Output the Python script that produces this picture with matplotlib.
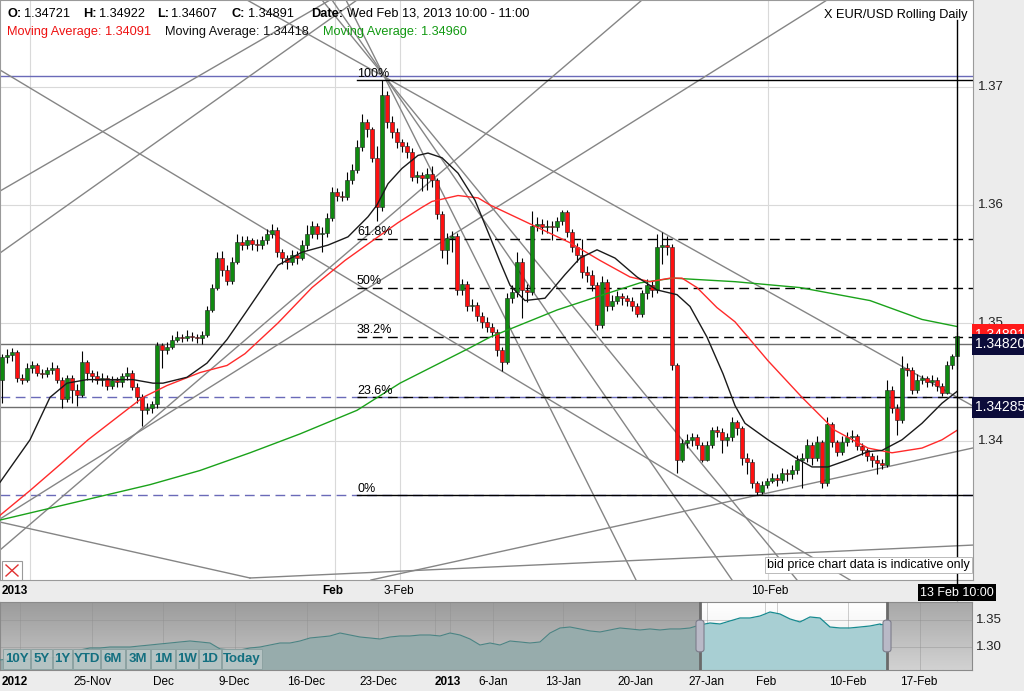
import matplotlib
matplotlib.use("Agg")
import matplotlib.pyplot as plt
import numpy as np
from matplotlib.colors import LinearSegmentedColormap
from matplotlib.patches import Rectangle, FancyBboxPatch
from matplotlib.lines import Line2D

plt.rcParams['font.family'] = ['Liberation Sans', 'DejaVu Sans']

W, H = 1024, 691

# ---- hourly EUR/USD candles (open = previous close) ----
first_open = 1.3452
close = [1.3471, 1.3473, 1.3475, 1.3453, 1.3452, 1.3462, 1.3464, 1.3458, 1.3457, 1.3460,
         1.3462, 1.3452, 1.3436, 1.3453, 1.3443, 1.3439, 1.3467, 1.3458, 1.3455, 1.3452,
         1.3453, 1.3447, 1.3452, 1.3450, 1.3455, 1.3458, 1.3446, 1.3437, 1.3426, 1.3428,
         1.3431, 1.3481, 1.3477, 1.3480, 1.3486, 1.3488, 1.3487, 1.3489, 1.3488, 1.3487,
         1.3490, 1.3511, 1.3530, 1.3555, 1.3545, 1.3536, 1.3552, 1.3569, 1.3566, 1.3570,
         1.3567, 1.3566, 1.3570, 1.3575, 1.3579, 1.3560, 1.3555, 1.3552, 1.3558, 1.3555,
         1.3566, 1.3575, 1.3582, 1.3575, 1.3576, 1.3589, 1.3611, 1.3608, 1.3607, 1.3621,
         1.3630, 1.3649, 1.3670, 1.3664, 1.3640, 1.3598, 1.3693, 1.3670, 1.3662, 1.3653,
         1.3650, 1.3645, 1.3624, 1.3625, 1.3623, 1.3626, 1.3621, 1.3592, 1.3562, 1.3572,
         1.3574, 1.3528, 1.3533, 1.3514, 1.3515, 1.3506, 1.3501, 1.3497, 1.3492, 1.3477,
         1.3467, 1.3521, 1.3526, 1.3552, 1.3528, 1.3526, 1.3582, 1.3584, 1.3581, 1.3582,
         1.3581, 1.3586, 1.3594, 1.3577, 1.3564, 1.3558, 1.3543, 1.3541, 1.3532, 1.3498,
         1.3535, 1.3514, 1.3519, 1.3523, 1.3521, 1.3519, 1.3514, 1.3508, 1.3525, 1.3532,
         1.3528, 1.3564, 1.3566, 1.3564, 1.3464, 1.3384, 1.3398, 1.3401, 1.3403, 1.3397,
         1.3384, 1.3397, 1.3409, 1.3408, 1.3401, 1.3403, 1.3416, 1.3411, 1.3386, 1.3382,
         1.3364, 1.3357, 1.3363, 1.3366, 1.3369, 1.3367, 1.3373, 1.3372, 1.3375, 1.3384,
         1.3386, 1.3397, 1.3386, 1.3399, 1.3364, 1.3414, 1.3399, 1.3391, 1.3399, 1.3403,
         1.3404, 1.3396, 1.3392, 1.3387, 1.3384, 1.3381, 1.3380, 1.3443, 1.3428, 1.3418,
         1.3462, 1.3460, 1.3443, 1.3452, 1.3453, 1.3450, 1.3452, 1.3447, 1.3441, 1.3464,
         1.3472, 1.3489]
high = [1.3474, 1.3478, 1.3479, 1.3477, 1.3457, 1.3466, 1.3468, 1.3466, 1.3461, 1.3463,
        1.3467, 1.3464, 1.3454, 1.3456, 1.3456, 1.3448, 1.3476, 1.3469, 1.3460, 1.3459,
        1.3458, 1.3456, 1.3455, 1.3454, 1.3458, 1.3463, 1.3460, 1.3449, 1.3440, 1.3432,
        1.3434, 1.3484, 1.3483, 1.3484, 1.3490, 1.3493, 1.3491, 1.3494, 1.3492, 1.3491,
        1.3493, 1.3514, 1.3533, 1.3560, 1.3561, 1.3549, 1.3556, 1.3575, 1.3574, 1.3574,
        1.3572, 1.3571, 1.3574, 1.3580, 1.3584, 1.3581, 1.3563, 1.3558, 1.3562, 1.3561,
        1.3570, 1.3583, 1.3586, 1.3585, 1.3581, 1.3593, 1.3615, 1.3614, 1.3612, 1.3628,
        1.3635, 1.3655, 1.3677, 1.3673, 1.3666, 1.3650, 1.3706, 1.3697, 1.3675, 1.3665,
        1.3656, 1.3653, 1.3648, 1.3629, 1.3628, 1.3631, 1.3633, 1.3623, 1.3595, 1.3576,
        1.3578, 1.3576, 1.3537, 1.3536, 1.3520, 1.3518, 1.3509, 1.3505, 1.3500, 1.3495,
        1.3480, 1.3525, 1.3532, 1.3560, 1.3555, 1.3533, 1.3595, 1.3590, 1.3588, 1.3587,
        1.3586, 1.3590, 1.3596, 1.3596, 1.3580, 1.3568, 1.3571, 1.3548, 1.3545, 1.3535,
        1.3540, 1.3537, 1.3524, 1.3527, 1.3525, 1.3524, 1.3522, 1.3517, 1.3528, 1.3537,
        1.3536, 1.3575, 1.3577, 1.3574, 1.3567, 1.3466, 1.3402, 1.3406, 1.3407, 1.3406,
        1.3399, 1.3400, 1.3412, 1.3413, 1.3411, 1.3407, 1.3420, 1.3418, 1.3413, 1.3390,
        1.3385, 1.3366, 1.3366, 1.3369, 1.3373, 1.3372, 1.3377, 1.3376, 1.3380, 1.3388,
        1.3390, 1.3402, 1.3399, 1.3404, 1.3401, 1.3420, 1.3416, 1.3401, 1.3404, 1.3408,
        1.3409, 1.3406, 1.3398, 1.3394, 1.3390, 1.3388, 1.3385, 1.3452, 1.3447, 1.3431,
        1.3472, 1.3466, 1.3463, 1.3457, 1.3456, 1.3455, 1.3456, 1.3454, 1.3449, 1.3468,
        1.3474, 1.3492]
low = [1.3432, 1.3466, 1.3468, 1.3450, 1.3448, 1.3450, 1.3458, 1.3455, 1.3453, 1.3454,
       1.3457, 1.3449, 1.3428, 1.3433, 1.3432, 1.3430, 1.3437, 1.3452, 1.3450, 1.3448,
       1.3447, 1.3443, 1.3444, 1.3446, 1.3446, 1.3452, 1.3443, 1.3432, 1.3413, 1.3423,
       1.3424, 1.3428, 1.3462, 1.3474, 1.3478, 1.3484, 1.3484, 1.3485, 1.3485, 1.3483,
       1.3482, 1.3488, 1.3509, 1.3528, 1.3540, 1.3532, 1.3533, 1.3550, 1.3562, 1.3563,
       1.3562, 1.3561, 1.3563, 1.3567, 1.3572, 1.3556, 1.3550, 1.3546, 1.3549, 1.3550,
       1.3553, 1.3563, 1.3572, 1.3571, 1.3560, 1.3573, 1.3586, 1.3603, 1.3603, 1.3604,
       1.3618, 1.3627, 1.3646, 1.3658, 1.3636, 1.3586, 1.3595, 1.3665, 1.3657, 1.3648,
       1.3645, 1.3640, 1.3620, 1.3619, 1.3612, 1.3613, 1.3615, 1.3588, 1.3555, 1.3550,
       1.3560, 1.3524, 1.3524, 1.3510, 1.3510, 1.3502, 1.3496, 1.3492, 1.3488, 1.3472,
       1.3459, 1.3465, 1.3517, 1.3522, 1.3504, 1.3518, 1.3524, 1.3578, 1.3575, 1.3576,
       1.3570, 1.3578, 1.3583, 1.3573, 1.3560, 1.3552, 1.3538, 1.3535, 1.3527, 1.3494,
       1.3496, 1.3510, 1.3511, 1.3516, 1.3515, 1.3514, 1.3510, 1.3505, 1.3505, 1.3520,
       1.3522, 1.3525, 1.3550, 1.3558, 1.3460, 1.3373, 1.3382, 1.3394, 1.3396, 1.3393,
       1.3382, 1.3383, 1.3394, 1.3403, 1.3390, 1.3396, 1.3400, 1.3405, 1.3380, 1.3372,
       1.3360, 1.3354, 1.3355, 1.3360, 1.3364, 1.3362, 1.3364, 1.3366, 1.3368, 1.3372,
       1.3360, 1.3382, 1.3380, 1.3383, 1.3360, 1.3362, 1.3395, 1.3387, 1.3388, 1.3396,
       1.3399, 1.3392, 1.3388, 1.3383, 1.3378, 1.3372, 1.3376, 1.3378, 1.3424, 1.3405,
       1.3415, 1.3455, 1.3440, 1.3441, 1.3448, 1.3446, 1.3447, 1.3442, 1.3438, 1.3440,
       1.3461, 1.3461]

# ---- moving averages (candle index, price) ----
ma_black_x = [-0.4, 5.6, 9.6, 13, 17, 26.2, 30.2, 32.2, 37, 41, 45, 48.6, 55.2, 60, 65.2,
              69.2, 73.2, 75, 77.2, 80, 83.2, 85.2, 88, 91.2, 94.6, 97.6, 99.6, 101.6,
              104.6, 108.6, 112.6, 115.6, 119, 122.6, 127, 131, 135, 137.6, 141, 144.2,
              146.6, 148.6, 153.2, 158.6, 162, 165.2, 169.2, 173.2, 176, 180, 184, 188, 191]
ma_black = [1.3365, 1.3401, 1.3437, 1.3449, 1.3452, 1.3452, 1.3449, 1.3449, 1.3454, 1.3466,
            1.3486, 1.3508, 1.3549, 1.3560, 1.3566, 1.3573, 1.3590, 1.3600, 1.3618, 1.3631,
            1.3642, 1.3644, 1.3640, 1.3627, 1.3604, 1.3573, 1.3552, 1.3532, 1.3519, 1.3521,
            1.3541, 1.3555, 1.3562, 1.3555, 1.3539, 1.3528, 1.3524, 1.3514, 1.3488, 1.3457,
            1.3430, 1.3415, 1.3401, 1.3386, 1.3378, 1.3378, 1.3384, 1.3391, 1.3392, 1.3401,
            1.3415, 1.3432, 1.3442]
ma_red_x = [-0.4, 5.6, 11.6, 17.2, 23, 28.2, 33, 39.6, 45, 48.6, 55.2, 62, 68.6, 75.2, 79.2,
            84, 86, 91.2, 95.2, 97.6, 105.6, 113.6, 119.6, 125.6, 129.6, 133.6, 136, 139,
            143, 146.6, 153.2, 160, 166.6, 173.2, 178, 184, 188, 191]
ma_red = [1.3337, 1.3358, 1.3380, 1.3401, 1.3420, 1.3437, 1.3447, 1.3458, 1.3464, 1.3474,
          1.3500, 1.3530, 1.3553, 1.3573, 1.3585, 1.3598, 1.3603, 1.3608, 1.3606, 1.3600,
          1.3584, 1.3568, 1.3553, 1.3539, 1.3535, 1.3538, 1.3538, 1.3530, 1.3513, 1.3501,
          1.3468, 1.3437, 1.3409, 1.3394, 1.3390, 1.3394, 1.3401, 1.3409]
ma_green_x = [-0.4, 9.6, 19.6, 29.6, 39.6, 49.6, 59.6, 71, 79.6, 93.6, 97.6, 111, 121, 127.6,
              134.2, 146.6, 159.6, 173.6, 184, 191]
ma_green = [1.3333, 1.3343, 1.3353, 1.3363, 1.3375, 1.3390, 1.3406, 1.3426, 1.3449, 1.3479,
            1.3488, 1.3511, 1.3525, 1.3534, 1.3538, 1.3535, 1.3530, 1.3519, 1.3503, 1.3497]

# ---- drawn trend / fan lines ((i0, p0), (i1, p1)) ----
trend_lines = [
    ((-0.4, 1.37144), (169.6, 1.32822)),
    ((-0.4, 1.36118), (65.6, 1.37737)),
    ((-0.4, 1.35593), (71.0, 1.37737)),
    ((-0.4, 1.33339), (165.0, 1.37737)),
    ((-0.4, 1.33076), (128.0, 1.37737)),
    # fan from the high
    ((49.0, 1.37737), (194.2, 1.34296)),
    ((64.0, 1.37737), (159.0, 1.32822)),
    ((66.0, 1.37737), (146.0, 1.32822)),
    ((68.8, 1.37737), (126.8, 1.32822)),
    # lower supports
    ((73.8, 1.32822), (194.2, 1.33941)),
    ((-0.4, 1.33313), (49.6, 1.32839)),
    ((49.6, 1.32839), (194.2, 1.33118)),
]

# horizontal levels
blue_solid = [1.3709]
blue_dashed = [1.3437, 1.3354]
grey_solid = [1.34820, 1.34285]
last_close = 1.34891
fib_high, fib_low = 1.3706, 1.3354
fib_ratios = [1.0, 0.618, 0.5, 0.382, 0.236, 0.0]
fib_labels = ['100%', '61.8%', '50%', '38.2%', '23.6%', '0%']
fib_start = 71

price_ticks = [1.34, 1.35, 1.36, 1.37]
time_labels = ['2013', 'Feb', '3-Feb', '10-Feb']
time_pos = [0.0, 66.2, 79.4, 153.6]
time_bold = [True, True, False, False]
vgrid = [5.6, 66.6, 79.6, 153.2]

# ---- navigator (daily closes, 10px slots) ----
nav_vals = [1.2760, 1.2778, 1.2760, 1.2778, 1.2797, 1.2797, 1.2816, 1.2834, 1.2945, 1.2982,
            1.2982, 1.3000, 1.3000, 1.3000, 1.3019, 1.3037, 1.3056, 1.3074, 1.3093, 1.3111,
            1.3093, 1.3074, 1.2964, 1.2945, 1.2945, 1.2982, 1.3000, 1.3037, 1.3074, 1.3074,
            1.3111, 1.3167, 1.3185, 1.3204, 1.3259, 1.3222, 1.3185, 1.3167, 1.3148, 1.3185,
            1.3204, 1.3204, 1.3222, 1.3222, 1.3204, 1.3259, 1.3222, 1.3148, 1.3037, 1.3074,
            1.3037, 1.3111, 1.3093, 1.3074, 1.3093, 1.3259, 1.3352, 1.3370, 1.3334, 1.3297,
            1.3278, 1.3315, 1.3352, 1.3334, 1.3315, 1.3334, 1.3315, 1.3334, 1.3334, 1.3352,
            1.3408, 1.3444, 1.3426, 1.3482, 1.3537, 1.3537, 1.3574, 1.3648, 1.3611, 1.3519,
            1.3463, 1.3556, 1.3537, 1.3370, 1.3352, 1.3352, 1.3370, 1.3389, 1.3426]
nav_labels = ['2012', '25-Nov', 'Dec', '9-Dec', '16-Dec', '23-Dec', '2013', '6-Jan', '13-Jan',
              '20-Jan', '27-Jan', 'Feb', '10-Feb', '17-Feb']
nav_label_pos = [0.2, 9.2, 16.3, 23.4, 30.6, 37.8, 44.8, 49.3, 56.3, 63.5, 70.6, 76.6, 84.8, 91.9]
nav_bold = ['2012', '2013']
nav_grid = [2.0, 9.2, 16.3, 23.5, 30.7, 37.8, 43.5, 45.0, 49.3, 56.3, 63.5, 70.7, 76.5, 77.7, 84.8, 92.0]
nav_sel = (70.0, 88.7)
buttons = ['10Y', '5Y', '1Y', 'YTD', '6M', '3M', '1M', '1W', '1D', 'Today']
button_w = [28, 22, 20, 28, 25, 25, 25, 23, 23, 41]


def fx(x):
    return x / W


def fy(y):
    return 1 - y / H


fig = plt.figure(figsize=(W / 100, H / 100), dpi=100, facecolor='#ececec')

# ---------------- main price panel ----------------
ax = fig.add_axes([0, fy(580), fx(973), 580 / H])
ax.set_facecolor('white')
ax.set_xlim(-0.4, 194.2)
ax.set_ylim(1.32822, 1.37737)
ax.set_xticks([])
ax.set_yticks([])
for s in ax.spines.values():
    s.set_color('#9a9a9a')
    s.set_linewidth(0.8)

for p in price_ticks:
    ax.axhline(p, color='#d9d9d9', lw=0.8, zorder=0)
for v in vgrid:
    ax.axvline(v, color='#d9d9d9', lw=0.8, zorder=0)

for p in blue_solid:
    ax.axhline(p, color='#6a6ab8', lw=1, zorder=1)
for p in blue_dashed:
    ax.axhline(p, color='#6a6ab8', lw=1, dashes=(7, 4), zorder=1)
for p in grey_solid:
    ax.axhline(p, color='#6e6e6e', lw=1, zorder=1)

for (a, b) in trend_lines:
    ax.plot([a[0], b[0]], [a[1], b[1]], color='#858585', lw=1, zorder=2)

for r, lab in zip(fib_ratios, fib_labels):
    lvl = fib_low + r * (fib_high - fib_low)
    ls = '-' if r in (0.0, 1.0) else (0, (7, 4))
    ax.plot([fib_start, 194.2], [lvl, lvl], color='black', lw=1, linestyle=ls, zorder=2)
    ax.text(fib_start, lvl + 0.00003, lab, fontsize=9, ha='left', va='bottom', zorder=6)

o = np.r_[first_open, close[:-1]]
c = np.array(close)
idx = np.arange(len(c))
up = c >= o
ax.vlines(idx, low, high, color='black', lw=0.8, zorder=3)
ax.bar(idx, np.maximum(np.abs(c - o), 0.00004), bottom=np.minimum(o, c), width=0.62,
       color=np.where(up, '#108a10', '#ff1010'), edgecolor='#202020', linewidth=0.4, zorder=4)

ax.plot(ma_green_x, ma_green, color='#1aa21a', lw=1, zorder=5)
ax.plot(ma_red_x, ma_red, color='#ff2a2a', lw=1, zorder=5)
ax.plot(ma_black_x, ma_black, color='#1a1a1a', lw=1, zorder=5)

# crosshair at last candle
ax.plot([idx[-1], idx[-1]], [1.32822, 1.37737 - 20 / 11800], color='black', lw=1, zorder=7)
fig.add_artist(Line2D([fx(957), fx(957)], [fy(600), fy(580)], color='black', lw=1))

ax.text(0.997, 0.0155, 'bid price chart data is indicative only', transform=ax.transAxes,
        fontsize=9, ha='right', va='bottom', zorder=8,
        bbox=dict(boxstyle='square,pad=0.15', fc='white', ec='#b0b0b0', lw=0.6))

# price axis labels
for p in price_ticks:
    ax.text(1.005, p, f'{p:.2f}', transform=ax.get_yaxis_transform(), fontsize=9.5,
            ha='left', va='center', color='#222222', clip_on=False)
# last-close tag sits mostly behind the 1.34820 tag, as in the original
ax.text(1.0025, last_close + 0.0001, f'{last_close:.5f}', transform=ax.get_yaxis_transform(),
        fontsize=10, ha='left', va='center', color='white', clip_on=False, zorder=8,
        bbox=dict(boxstyle='square,pad=0.25', fc='#ff1a1a', ec='none'))
for p in grey_solid:
    ax.text(1.0025, p, f'{p:.5f}', transform=ax.get_yaxis_transform(), fontsize=10,
            ha='left', va='center', color='white', clip_on=False, zorder=9,
            bbox=dict(boxstyle='square,pad=0.25', fc='#0c0c3a', ec='none'))

# small close icon
fig.add_artist(Rectangle((fx(2), fy(580)), fx(20), 19 / H, fc='white', ec='#9a9a9a', lw=0.8))
fig.add_artist(Line2D([fx(6), fx(18)], [fy(576), fy(565)], color='#e03030', lw=1))
fig.add_artist(Line2D([fx(6), fx(18)], [fy(565), fy(576)], color='#e03030', lw=1))

# header
hdr1 = [('O:', 7, True), ('1.34721', 24, False), ('H:', 83, True), ('1.34922', 99, False),
        ('L:', 157, True), ('1.34607', 171, False), ('C:', 231, True), ('1.34891', 248, False),
        ('Date:', 311, True), ('Wed Feb 13, 2013 10:00 - 11:00', 347, False)]
for t, x, b in hdr1:
    fig.text(fx(x), fy(14), t, fontsize=9.2, fontweight='bold' if b else 'normal',
             ha='left', va='center', color='black')
hdr2 = [('Moving Average: 1.34091', 7, '#ee1111'), ('Moving Average: 1.34418', 165, '#111111'),
        ('Moving Average: 1.34960', 323, '#119911')]
for t, x, col in hdr2:
    fig.text(fx(x), fy(32), t, fontsize=9.2, ha='left', va='center', color=col)
fig.text(fx(968), fy(15), 'X EUR/USD Rolling Daily', fontsize=9.2, ha='right', va='center')

# time row
for lab, pos, b in zip(time_labels, time_pos, time_bold):
    xp = 2 + 5 * pos
    fig.text(fx(xp), fy(591), lab, fontsize=8.5, ha='left' if lab == '2013' else 'center',
             va='center', fontweight='bold' if b else 'normal')
fig.text(fx(957), fy(592.5), '13 Feb 10:00', fontsize=9, ha='center', va='center', color='white',
         bbox=dict(boxstyle='square,pad=0.2', fc='black', ec='none'))

# ---------------- navigator ----------------
nax = fig.add_axes([0, fy(670), fx(972), 68 / H])
nax.set_xlim(0, 97.2)
nav_lo, nav_hi = 1.2574, 1.3833
nax.set_ylim(nav_lo, nav_hi)
nax.set_xticks([])
nax.set_yticks([])
for s in nax.spines.values():
    s.set_color('#8a8a8a')
    s.set_linewidth(0.8)

grad = np.linspace(0, 1, 64).reshape(-1, 1)
cm_out = LinearSegmentedColormap.from_list('o', ['#9c9c9c', '#c6c6c6'])
cm_right = LinearSegmentedColormap.from_list('r', ['#a8a8a8', '#d2d2d2'])
cm_sel = LinearSegmentedColormap.from_list('s', ['#ffffff', '#e6e6e6'])
nax.imshow(grad, cmap=cm_out, extent=[0, nav_sel[0], nav_lo, nav_hi], aspect='auto', zorder=0,
           origin='upper')
nax.imshow(grad, cmap=cm_sel, extent=[nav_sel[0], nav_sel[1], nav_lo, nav_hi], aspect='auto',
           zorder=0, origin='upper')
nax.imshow(grad, cmap=cm_right, extent=[nav_sel[1], 97.2, nav_lo, nav_hi], aspect='auto',
           zorder=0, origin='upper')
for g in nav_grid:
    nax.axvline(g, color='#8f8f8f', lw=0.6, alpha=0.5, zorder=1)
for p in (1.30, 1.35):
    nax.axhline(p, color='#8f8f8f', lw=0.6, alpha=0.5, zorder=1)

nx = np.arange(len(nav_vals))
nv = np.array(nav_vals)
m1 = nx <= nav_sel[0]
m2 = nx >= nav_sel[0]
nax.fill_between(nx[m1], nav_lo, nv[m1], color='#97acac', zorder=2, lw=0)
nax.plot(nx[m1], nv[m1], color='#4a8484', lw=0.8, zorder=3)
nax.fill_between(nx[m2], nav_lo, nv[m2], color='#a8cfd3', zorder=2, lw=0)
nax.plot(nx[m2], nv[m2], color='#168a90', lw=0.9, zorder=3)
nax.plot([len(nav_vals) - 1, nav_sel[1]], [nav_vals[-1], nav_vals[-1]], color='#168a90', lw=0.9,
         zorder=3)
nax.fill_between([len(nav_vals) - 1, nav_sel[1]], nav_lo, nav_vals[-1], color='#a8cfd3', zorder=2,
                 lw=0)

for xs in nav_sel:
    nax.axvline(xs, color='#6a6a6a', lw=2, zorder=4)

for p in (1.35, 1.30):
    nax.text(1.004, p, f'{p:.2f}', transform=nax.get_yaxis_transform(), fontsize=9.5,
             ha='left', va='center', color='#222222', clip_on=False)

# selection handles
for px in (700, 887):
    fig.add_artist(FancyBboxPatch((fx(px - 4), fy(652)), fx(8), 32 / H,
                                  boxstyle='round,pad=0,rounding_size=0.004',
                                  fc='#b9b9c7', ec='#7c7c8a', lw=0.8))

# range buttons
bx = 3
for lab, w in zip(buttons, button_w):
    fig.add_artist(Rectangle((fx(bx), fy(669)), fx(w - 1), 20 / H, fc='#b9c6c6', ec='#8aa0a0',
                             lw=0.7, alpha=0.9))
    fig.text(fx(bx + (w - 1) / 2), fy(659), lab, fontsize=9.5, fontweight='bold',
             color='#136f80', ha='center', va='center')
    bx += w

for lab, pos in zip(nav_labels, nav_label_pos):
    xp = pos * 10
    fig.text(fx(xp), fy(682), lab, fontsize=8.5,
             ha='left' if lab == '2012' else 'center', va='center',
             fontweight='bold' if lab in nav_bold else 'normal')

fig.savefig('out.png', dpi=100, facecolor=fig.get_facecolor())
